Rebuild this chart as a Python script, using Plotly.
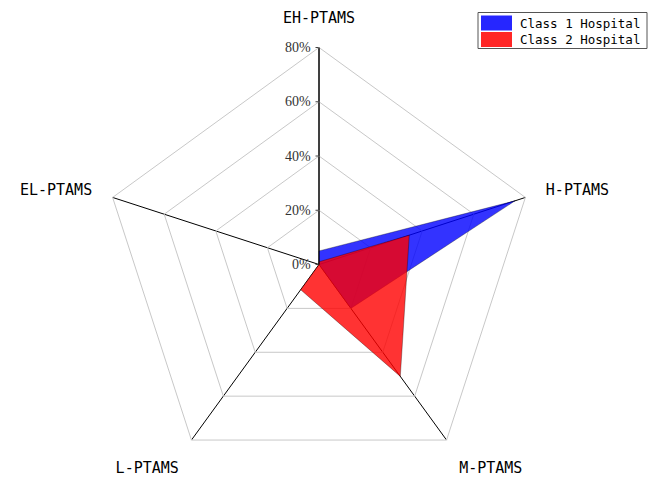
import plotly.graph_objects as go

# axes, clockwise from the top
categories = ["EH-PTAMS", "H-PTAMS", "M-PTAMS", "L-PTAMS", "EL-PTAMS"]
class1 = [5, 76, 20, 0, 0]
class2 = [1, 35, 51, 11.5, 0]
series_names = ["Class 1 Hospital", "Class 2 Hospital"]
series_colors = ["rgba(0,0,255,0.8)", "rgba(255,0,0,0.8)"]
radial_ticks = [0, 20, 40, 60, 80]
radial_labels = ["0%", "20%", "40%", "60%", "80%"]

W, H = 658, 478
OFF = 8  # the html page puts the figure 8px in from the corner (body margin)


def px(x):
    return (x - OFF) / W


def py(y):
    return 1 - (y - OFF) / H


fig = go.Figure()
for name, vals, col in zip(series_names, [class1, class2], series_colors):
    # close the polygon
    fig.add_trace(go.Scatterpolar(r=vals + vals[:1],
                                  theta=categories + categories[:1],
                                  mode='lines',
                                  fill='toself',
                                  fillcolor=col,
                                  line=dict(color='rgba(0,0,0,0.45)', width=0.7),
                                  name=name,
                                  hoverinfo='name+r+theta'))

fig.update_layout(
    width=W, height=H,
    margin=dict(l=0, r=0, t=0, b=0, autoexpand=False),
    paper_bgcolor='white',
    showlegend=False,
    polar=dict(
        # centre at about (319, 265) on the page, radius 217
        domain=dict(x=[px(102), px(536)], y=[py(481.5), py(47.5)]),
        bgcolor='white',
        gridshape='linear',
        radialaxis=dict(range=[0, 80],
                        tickvals=radial_ticks,
                        ticktext=radial_labels,
                        angle=90,
                        tickangle=90,
                        side='counterclockwise',
                        ticks='outside', ticklen=3, tickcolor='#444',
                        showline=True, linecolor='black', linewidth=1,
                        gridcolor='rgb(200,200,200)', gridwidth=1,
                        tickfont=dict(family='Liberation Serif', size=14, color='#333')),
        angularaxis=dict(rotation=90,
                         direction='clockwise',
                         showline=True, linecolor='rgb(200,200,200)', linewidth=1,
                         gridcolor='black', gridwidth=1,
                         ticks='outside', ticklen=18, tickcolor='rgba(0,0,0,0)',
                         tickfont=dict(family='DejaVu Sans Mono', size=15, color='black')),
    ),
)

# legend box drawn by hand, to get the tall swatches of the original
fig.add_shape(type='rect', xref='paper', yref='paper',
              x0=px(478), x1=px(647), y0=py(48.5), y1=py(12.5),
              line=dict(color='#555', width=1), fillcolor='white')
for i, (name, col) in enumerate(zip(series_names, series_colors)):
    top = 15.5 + i * 16.5
    fig.add_shape(type='rect', xref='paper', yref='paper',
                  x0=px(481), x1=px(512), y0=py(top + 15), y1=py(top),
                  line=dict(width=0), fillcolor=col.replace('0.8)', '0.85)'))
    fig.add_annotation(text=name, xref='paper', yref='paper',
                       x=px(518), y=py(top + 8),
                       xanchor='left', yanchor='middle', showarrow=False,
                       font=dict(family='DejaVu Sans Mono', size=12.5, color='black'))

fig.write_html("out.html")
